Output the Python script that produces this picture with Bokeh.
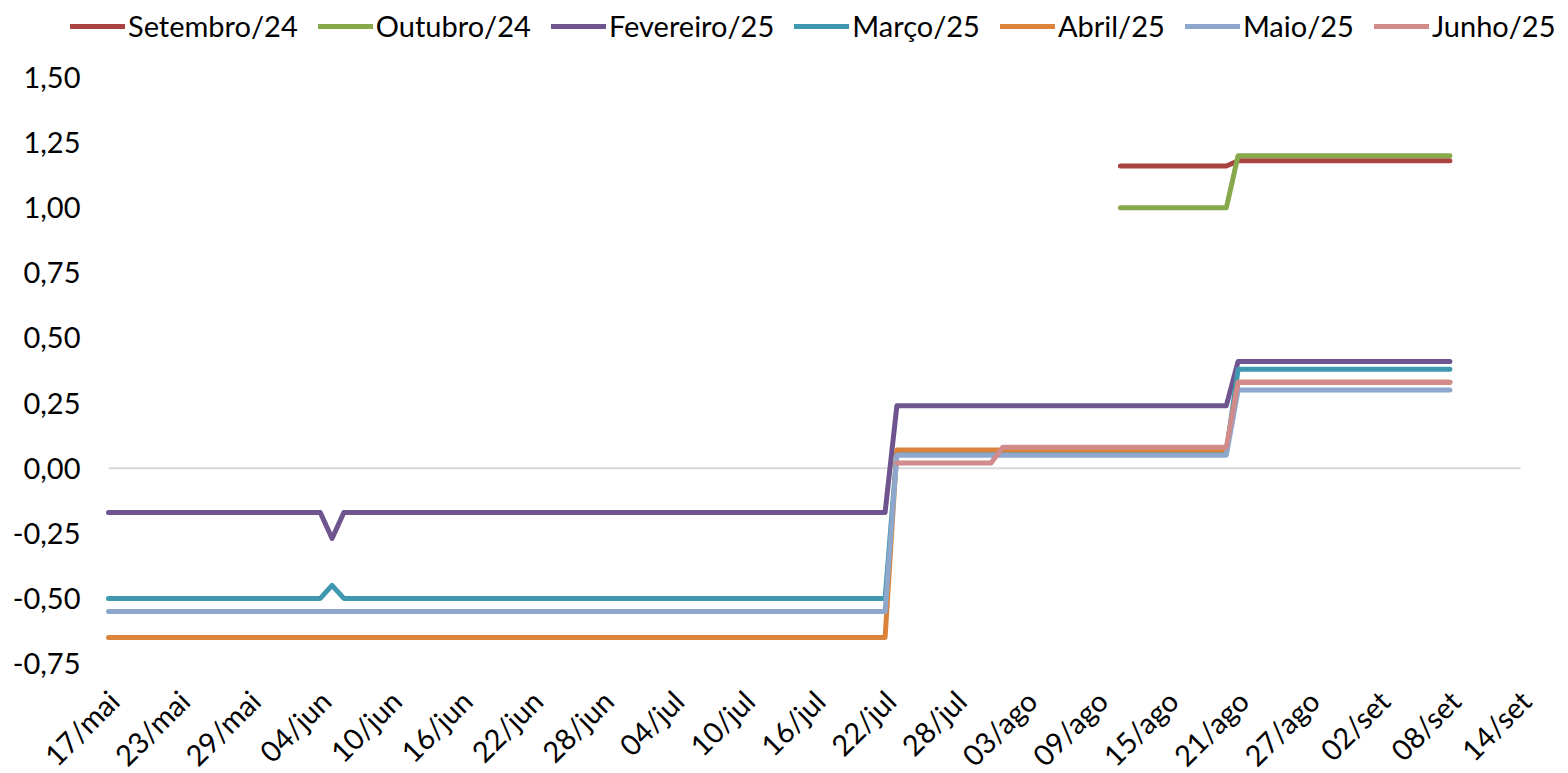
import math
import pandas as pd
from bokeh.plotting import figure
from bokeh.models import Range1d, Legend, LegendItem
from bokeh.core.properties import value
from bokeh.embed import file_html
from bokeh.resources import INLINE

# ---------------- data ----------------
tick_labels_start = "2025-05-17"
tick_step_days = 6
tick_count = 21
month_abbr = ["jan", "fev", "mar", "abr", "mai", "jun", "jul", "ago", "set", "out", "nov", "dez"]

y_ticks = [-0.75, -0.5, -0.25, 0.0, 0.25, 0.5, 0.75, 1.0, 1.25, 1.5]

set24_dates = ["2025-08-11", "2025-08-20", "2025-08-21", "2025-09-08"]
set24_values = [1.16, 1.16, 1.18, 1.18]

out24_dates = ["2025-08-11", "2025-08-20", "2025-08-21", "2025-09-08"]
out24_values = [1.00, 1.00, 1.20, 1.20]

fev25_dates = ["2025-05-17", "2025-06-04", "2025-06-05", "2025-06-06", "2025-07-22",
               "2025-07-23", "2025-08-20", "2025-08-21", "2025-09-08"]
fev25_values = [-0.17, -0.17, -0.27, -0.17, -0.17, 0.24, 0.24, 0.41, 0.41]

mar25_dates = ["2025-05-17", "2025-06-04", "2025-06-05", "2025-06-06", "2025-07-22",
               "2025-07-23", "2025-08-20", "2025-08-21", "2025-09-08"]
mar25_values = [-0.50, -0.50, -0.45, -0.50, -0.50, 0.06, 0.06, 0.38, 0.38]

abr25_dates = ["2025-05-17", "2025-07-22", "2025-07-23", "2025-08-20", "2025-08-21", "2025-09-08"]
abr25_values = [-0.65, -0.65, 0.07, 0.07, 0.33, 0.33]

mai25_dates = ["2025-05-17", "2025-07-22", "2025-07-23", "2025-08-20", "2025-08-21", "2025-09-08"]
mai25_values = [-0.55, -0.55, 0.05, 0.05, 0.30, 0.30]

jun25_dates = ["2025-07-23", "2025-07-31", "2025-08-01", "2025-08-20", "2025-08-21", "2025-09-08"]
jun25_values = [0.02, 0.02, 0.08, 0.08, 0.33, 0.33]

series = [
    ("Setembro/24", set24_dates, set24_values, "#A8433F"),
    ("Outubro/24", out24_dates, out24_values, "#87A84B"),
    ("Fevereiro/25", fev25_dates, fev25_values, "#6E5590"),
    ("Março/25", mar25_dates, mar25_values, "#3F98B0"),
    ("Abril/25", abr25_dates, abr25_values, "#DB833B"),
    ("Maio/25", mai25_dates, mai25_values, "#8EA7CD"),
    ("Junho/25", jun25_dates, jun25_values, "#D08B8A"),
]

FONT = "Lato"
FS = "29px"

# ---------------- layout (pixels) ----------------
W, H = 1568, 773
PLOT_L, PLOT_R = 108, 1520   # first / last date tick
PLOT_T, PLOT_B = 77, 663     # 1,50 tick / -0,75 tick

start = pd.Timestamp(tick_labels_start)
ticks_dt = [start + pd.Timedelta(days=tick_step_days * i) for i in range(tick_count)]
tick_text = [f"{t.day:02d}/{month_abbr[t.month - 1]}" for t in ticks_dt]

span_days = (ticks_dt[-1] - ticks_dt[0]).days
px_per_day = (PLOT_R - PLOT_L) / span_days
x_start = ticks_dt[0] - pd.Timedelta(days=PLOT_L / px_per_day)
x_end = ticks_dt[-1] + pd.Timedelta(days=(W - PLOT_R) / px_per_day)

px_per_unit = (PLOT_B - PLOT_T) / (y_ticks[-1] - y_ticks[0])
y_top = y_ticks[-1] + PLOT_T / px_per_unit
y_bot = y_ticks[0] - (H - PLOT_B) / px_per_unit

p = figure(width=W, height=H, x_axis_type="datetime",
           x_range=Range1d(x_start, x_end), y_range=Range1d(y_bot, y_top),
           output_backend="svg", toolbar_location=None, min_border=0)
p.outline_line_color = None
p.xgrid.visible = False
p.ygrid.visible = False
p.xaxis.visible = False
p.yaxis.visible = False

# zero line (Excel category axis line)
p.line([ticks_dt[0], ticks_dt[-1]], [0, 0], line_color="#D9D9D9", line_width=2)

# value-axis labels
y_labels = [f"{t:.2f}".replace(".", ",") for t in y_ticks]
p.text(x=[x_start] * len(y_ticks), y=y_ticks, text=y_labels, x_offset=80,
       text_align="right", text_baseline="middle",
       text_font=value(FONT), text_font_size=FS, text_color="#000000")

# date-axis labels (rotated 45 degrees)
p.text(x=ticks_dt, y=[y_ticks[0]] * len(ticks_dt), text=tick_text,
       x_offset=5, y_offset=32, angle=math.pi / 4,
       text_align="right", text_baseline="middle",
       text_font=value(FONT), text_font_size=FS, text_color="#000000")

items = []
for name, d, v, c in series:
    r = p.line(pd.to_datetime(d), v, line_color=c, line_width=5,
               line_join="round", line_cap="round")
    items.append(LegendItem(label=name, renderers=[r]))

legend = Legend(items=items, orientation="horizontal", location=(70, 730),
                padding=0, margin=0, spacing=20, label_standoff=3,
                glyph_width=55, glyph_height=20,
                label_text_font=FONT, label_text_font_size=FS,
                label_text_color="#000000",
                border_line_alpha=0, background_fill_alpha=0)
p.add_layout(legend, "center")

open("out.html", "w").write(file_html(p, INLINE))
